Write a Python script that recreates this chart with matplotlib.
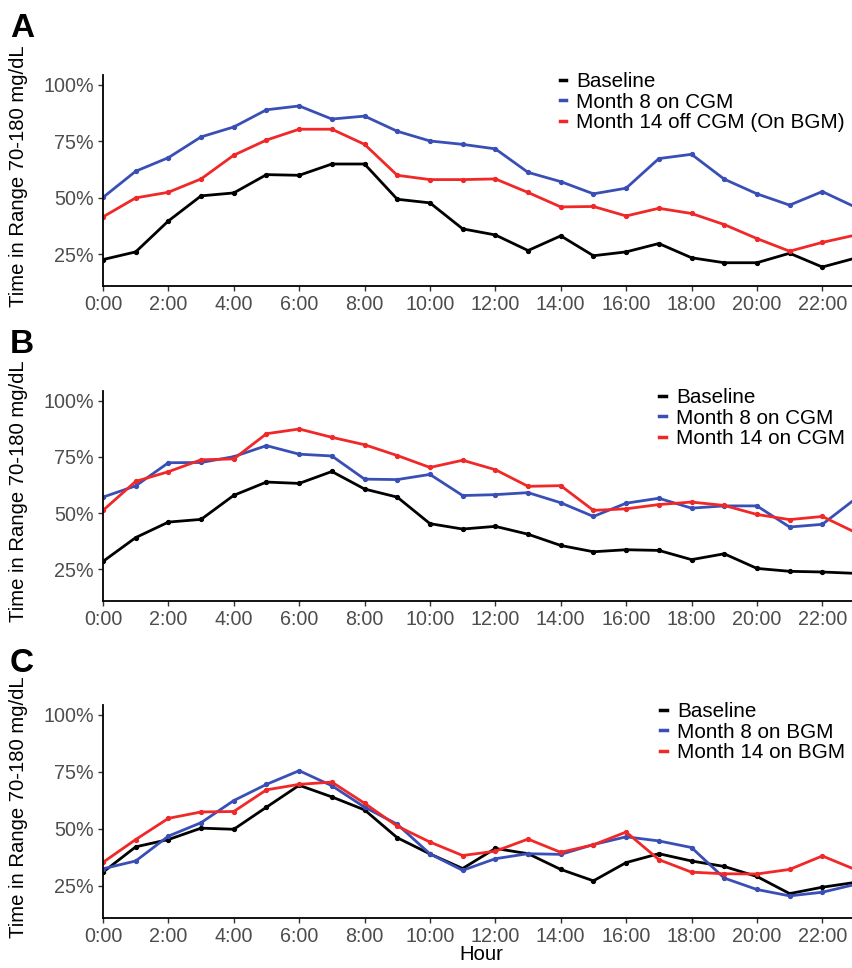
import numpy as np
import matplotlib
matplotlib.use("Agg")
import matplotlib.pyplot as plt

plt.rcParams['font.family'] = ['Liberation Sans', 'DejaVu Sans']

hours = list(range(24))
xtick_hours = list(range(0, 24, 2))
xtick_labels = ["%d:00" % h for h in xtick_hours]
ytick_vals = [25, 50, 75, 100]
ytick_labels = ["25%", "50%", "75%", "100%"]

# panel A
a_base = [22.6, 26.0, 39.7, 50.8, 52.1, 60.2, 59.9, 64.9, 64.9, 49.3, 47.7, 36.2,
          33.5, 26.6, 33.1, 24.3, 26.0, 29.7, 23.4, 21.2, 21.2, 25.4, 19.3, 23.2]
a_m8 = [50.1, 61.7, 67.7, 76.9, 81.3, 88.9, 90.6, 84.8, 86.1, 79.4, 75.1, 73.6,
        71.6, 61.2, 57.1, 51.7, 54.2, 67.3, 69.2, 58.2, 51.7, 46.7, 52.7, 45.9]
a_m14 = [41.5, 49.9, 52.4, 58.3, 68.8, 75.5, 80.3, 80.3, 73.6, 59.9, 58.0, 58.0,
         58.3, 52.3, 45.9, 46.1, 41.9, 45.3, 43.0, 38.1, 31.9, 26.3, 30.2, 33.4]
a_labels = ["Baseline", "Month 8 on CGM", "Month 14 off CGM (On BGM)"]

# panel B
b_base = [28.5, 39.1, 46.0, 47.2, 57.9, 63.8, 63.2, 68.5, 60.7, 57.1, 45.3, 42.9,
          44.1, 40.6, 35.6, 32.8, 33.7, 33.4, 29.3, 31.9, 25.4, 24.1, 23.8, 23.2]
b_m8 = [57.1, 62.1, 72.4, 72.5, 75.1, 80.0, 76.2, 75.4, 65.1, 64.9, 67.2, 57.8,
        58.2, 59.1, 54.6, 48.5, 54.4, 56.6, 52.2, 53.2, 53.2, 43.8, 45.0, 56.2]
b_m14 = [51.2, 64.1, 68.4, 73.7, 74.1, 85.3, 87.4, 83.7, 80.4, 75.6, 70.3, 73.5,
         69.3, 61.9, 62.2, 51.2, 51.9, 53.8, 54.9, 53.4, 49.4, 47.1, 48.5, 41.5]
b_labels = ["Baseline", "Month 8 on CGM", "Month 14 on CGM"]

# panel C
c_base = [31.0, 42.1, 45.3, 50.3, 49.8, 59.5, 69.1, 64.0, 58.3, 46.1, 39.0, 32.6,
          41.4, 39.1, 32.2, 27.2, 35.2, 39.1, 35.9, 33.5, 29.1, 21.6, 24.4, 26.5]
c_m8 = [32.5, 35.9, 46.8, 52.7, 62.4, 69.5, 75.5, 68.9, 59.5, 52.0, 39.0, 31.8,
        36.9, 39.1, 38.8, 43.1, 46.5, 44.7, 41.8, 28.4, 23.4, 20.6, 22.2, 25.6]
c_m14 = [35.3, 45.3, 54.6, 57.4, 57.6, 67.1, 69.5, 70.5, 61.2, 51.2, 44.2, 38.3,
         40.2, 45.5, 39.7, 43.0, 48.6, 36.5, 31.0, 30.3, 30.2, 32.2, 38.1, 32.2]
c_labels = ["Baseline", "Month 8 on BGM", "Month 14 on BGM"]

panels = [("A", a_base, a_m8, a_m14, a_labels),
          ("B", b_base, b_m8, b_m14, b_labels),
          ("C", c_base, c_m8, c_m14, c_labels)]

colors = ["black", "#3a4fb5", "#f02828"]
W, H = 852., 968.
# pixel boxes: (top, bottom) of each axes
boxes = [(75, 286), (391, 601), (705, 918)]
letter_y = [13, 329, 648]
left_px, right_px = 103, 855

fig = plt.figure(figsize=(8.52, 9.68), dpi=100)

for i, (letter, base, m8, m14, labels) in enumerate(panels):
    top, bot = boxes[i]
    ax = fig.add_axes([left_px / W, 1 - bot / H, (right_px - left_px) / W, (bot - top) / H])
    for ys, col, lab in zip([base, m8, m14], colors, labels):
        ax.plot(hours, ys, color=col, lw=2.0, marker='o', ms=2.8, label=lab)
    ax.set_xlim(0, 23)
    ax.set_ylim(10.9, 104.3)
    ax.set_xticks(xtick_hours)
    ax.set_xticklabels(xtick_labels)
    ax.set_yticks(ytick_vals)
    ax.set_yticklabels(ytick_labels)
    for s in ['top', 'right']:
        ax.spines[s].set_visible(False)
    for s in ['left', 'bottom']:
        ax.spines[s].set_linewidth(1.3)
    ax.tick_params(axis='both', labelsize=14.2, colors='#333333', labelcolor='#4d4d4d',
                   length=3.5, width=1.0, pad=3)
    fig.text(19 / W, 1 - ((top + bot) / 2 - 4.5) / H, "Time in Range 70-180 mg/dL",
             fontsize=14.6, rotation=90, ha='center', va='center')
    leg = ax.legend(loc='upper right', bbox_to_anchor=(845 / W, 1 - (top - 3) / H),
                    bbox_transform=fig.transFigure, frameon=False, fontsize=14.9,
                    handlelength=0.3, handletextpad=0.5, labelspacing=0.08,
                    borderpad=0, borderaxespad=0)
    for lh in leg.get_lines():
        lh.set_marker('')
        lh.set_linewidth(2.5)
    fig.text(10 / W, 1 - letter_y[i] / H, letter, fontsize=24, fontweight='bold', va='top', ha='left')

fig.text(481 / W, 1 - 955 / H, "Hour", fontsize=14.6, ha='center', va='center')

fig.savefig("out.png", dpi=100)
